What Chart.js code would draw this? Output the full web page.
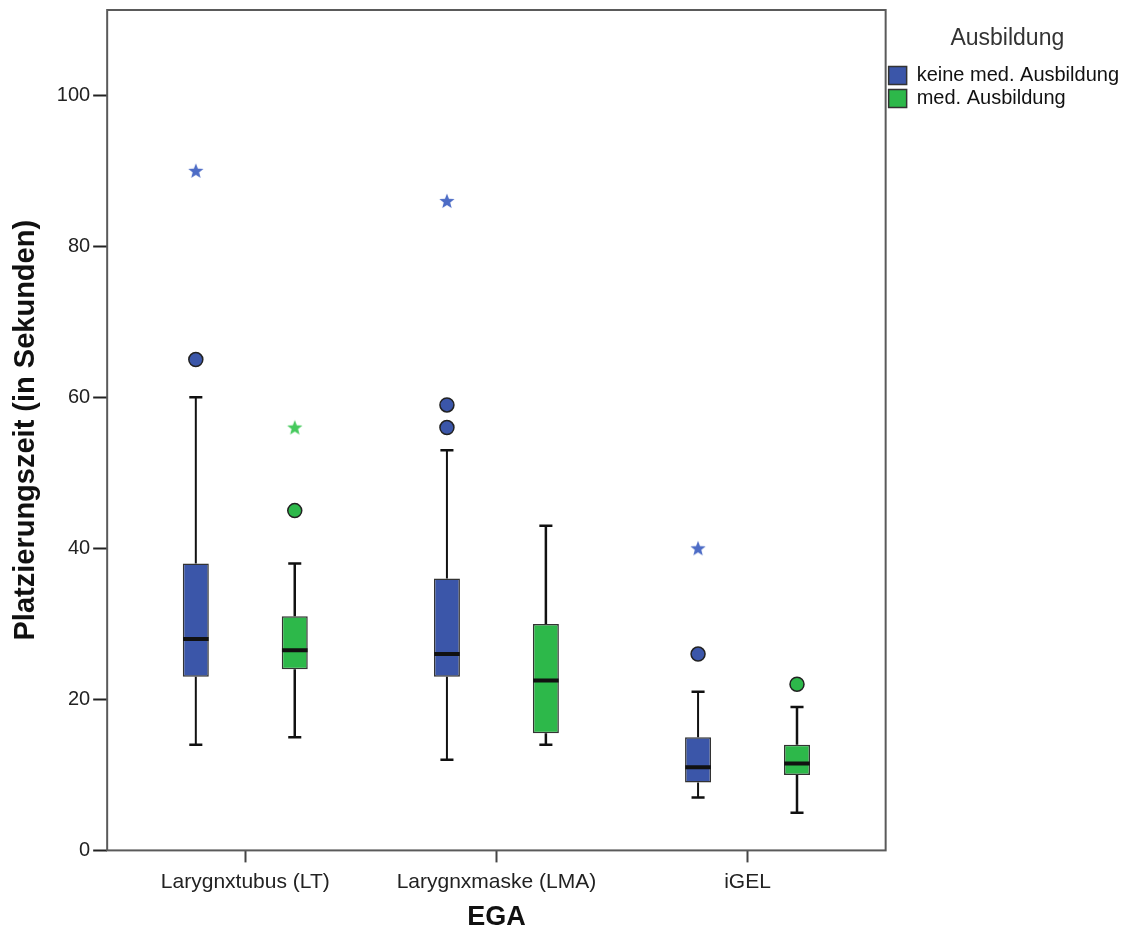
<!DOCTYPE html>
<html><head><meta charset="utf-8">
<script src="https://cdn.jsdelivr.net/npm/chart.js@4.4.1/dist/chart.umd.min.js"></script>
<style>html,body{margin:0;padding:0;background:#fff;} #wrap{width:1127px;height:934px;position:relative}</style>
</head><body><div id="wrap"><canvas id="c" width="1127" height="934"></canvas></div>
<script>
// ---- data ----
const categories = ['Larygnxtubus (LT)', 'Larygnxmaske (LMA)', 'iGEL'];
const seriesNames = ['keine med. Ausbildung', 'med. Ausbildung'];
const yTicks = [0, 20, 40, 60, 80, 100];

const keineMin      = [14, 12, 7];
const keineQ1       = [23, 23, 9];
const keineMedian   = [28, 26, 11];
const keineQ3       = [38, 36, 15];
const keineMax      = [60, 53, 21];
const keineOutliers = [[65], [59, 56], [26]];
const keineExtremes = [[90], [86], [40]];

const medMin        = [15, 14, 5];
const medQ1         = [24, 15.5, 10];
const medMedian     = [26.5, 22.5, 11.5];
const medQ3         = [31, 30, 14];
const medMax        = [38, 43, 19];
const medOutliers   = [[45], [], [22]];
const medExtremes   = [[56], [], []];

// ---- style ----
const FONT = "'Liberation Sans', Arial, sans-serif";
const BLUE = '#3b56a9', GREEN = '#2db84a';
const BLUE_STAR = '#4d6cc6', GREEN_STAR = '#45c95c';
const OFFSET = 0.197, CAP_HALF = 0.026, MED_HALF = 0.051;

function starCanvas(color) {
  const s = 18, c = document.createElement('canvas');
  c.width = s; c.height = s;
  const g = c.getContext('2d');
  const cx = s / 2, cy = s / 2 + 0.5, R = 8, r = 3.4;
  g.beginPath();
  for (let i = 0; i < 10; i++) {
    const rad = i % 2 === 0 ? R : r;
    const a = -Math.PI / 2 + i * Math.PI / 5;
    const px = cx + rad * Math.cos(a), py = cy + rad * Math.sin(a);
    i === 0 ? g.moveTo(px, py) : g.lineTo(px, py);
  }
  g.closePath();
  g.fillStyle = color; g.fill();
  return c;
}

function build(min, q1, med, q3, max, outl, extr, off) {
  const boxes = [], whisk = [], caps = [], meds = [], circ = [], stars = [];
  categories.forEach((_, i) => {
    const x = i + off;
    boxes.push({x: x, y: [q1[i], q3[i]]});
    whisk.push({x: x, y: min[i]}, {x: x, y: q1[i]}, {x: x, y: null},
               {x: x, y: q3[i]}, {x: x, y: max[i]}, {x: x, y: null});
    caps.push({x: x - CAP_HALF, y: min[i]}, {x: x + CAP_HALF, y: min[i]}, {x: x, y: null},
              {x: x - CAP_HALF, y: max[i]}, {x: x + CAP_HALF, y: max[i]}, {x: x, y: null});
    meds.push({x: x - MED_HALF, y: med[i]}, {x: x + MED_HALF, y: med[i]}, {x: x, y: null});
    outl[i].forEach(v => circ.push({x: x, y: v}));
    extr[i].forEach(v => stars.push({x: x, y: v}));
  });
  return {boxes, whisk, caps, meds, circ, stars};
}

const A = build(keineMin, keineQ1, keineMedian, keineQ3, keineMax, keineOutliers, keineExtremes, -OFFSET);
const B = build(medMin, medQ1, medMedian, medQ3, medMax, medOutliers, medExtremes, OFFSET);

const lineDs = (data, w) => ({type: 'line', data, borderColor: '#111', borderWidth: w, pointRadius: 0,
  spanGaps: false, fill: false, borderCapStyle: 'butt', tension: 0, order: 0});

const datasets = [
  {type: 'bar', label: seriesNames[0], data: A.boxes, backgroundColor: BLUE, borderColor: '#333',
   borderWidth: 1.5, borderSkipped: false, grouped: false, maxBarThickness: 26, order: 2},
  {type: 'bar', label: seriesNames[1], data: B.boxes, backgroundColor: GREEN, borderColor: '#333',
   borderWidth: 1.5, borderSkipped: false, grouped: false, maxBarThickness: 26, order: 2},
  lineDs(A.whisk, 2), lineDs(B.whisk, 2.5), lineDs(A.caps, 2.5), lineDs(B.caps, 2.5),
  lineDs(A.meds, 4), lineDs(B.meds, 4),
  {type: 'line', data: A.circ, showLine: false, pointStyle: 'circle', pointRadius: 7,
   pointBackgroundColor: BLUE, pointBorderColor: '#222', pointBorderWidth: 1.5, order: 0},
  {type: 'line', data: B.circ, showLine: false, pointStyle: 'circle', pointRadius: 7,
   pointBackgroundColor: GREEN, pointBorderColor: '#222', pointBorderWidth: 1.5, order: 0},
  {type: 'line', data: A.stars, showLine: false, pointStyle: starCanvas(BLUE_STAR), pointRadius: 8, order: 0},
  {type: 'line', data: B.stars, showLine: false, pointStyle: starCanvas(GREEN_STAR), pointRadius: 8, order: 0}
];

const framePlugin = {
  id: 'frame',
  afterDraw(chart) {
    const {ctx, chartArea: a} = chart;
    ctx.save();
    ctx.strokeStyle = '#5a5a5a'; ctx.lineWidth = 2;
    ctx.strokeRect(a.left, a.top, a.right - a.left, a.bottom - a.top);
    ctx.restore();
  }
};

new Chart(document.getElementById('c'), {
  type: 'bar',
  data: {datasets},
  plugins: [framePlugin],
  options: {
    responsive: false, animation: false, devicePixelRatio: 1,
    layout: {padding: {left: 0, top: 10, right: -2, bottom: 0}},
    scales: {
      x: {
        type: 'linear', min: -0.55, max: 2.55, offset: false,
        afterBuildTicks: s => { s.ticks = categories.map((_, i) => ({value: i})); },
        grid: {display: true, drawOnChartArea: false, drawTicks: true, tickLength: 12, tickWidth: 2, tickColor: '#444', offset: false},
        border: {display: false},
        ticks: {callback: v => categories[v], autoSkip: false, maxRotation: 0, padding: 7,
                color: '#222', font: {family: FONT, size: 21}},
        title: {display: true, text: 'EGA', color: '#111', font: {family: FONT, size: 27, weight: 'bold'},
                padding: {top: 0, bottom: 0}}
      },
      y: {
        type: 'linear', min: 0, max: 111.3,
        afterBuildTicks: s => { s.ticks = yTicks.map(v => ({value: v})); },
        grid: {display: true, drawOnChartArea: false, drawTicks: true, tickLength: 14, tickWidth: 2, tickColor: '#222'},
        border: {display: false},
        ticks: {padding: 3, color: '#222', font: {family: FONT, size: 20, lineHeight: 0.6}},
        title: {display: true, text: 'Platzierungszeit (in Sekunden)', color: '#111',
                font: {family: FONT, size: 29, weight: 'bold'}, padding: {top: 9, bottom: 10}}
      }
    },
    plugins: {
      tooltip: {enabled: false},
      legend: {
        position: 'right', align: 'start',
        title: {display: true, text: 'Ausbildung', color: '#333', font: {family: FONT, size: 23},
                padding: {top: 17, bottom: 8}},
        labels: {boxWidth: 18, boxHeight: 18, padding: 3, color: '#111',
                 font: {family: FONT, size: 20, lineHeight: 1},
                 filter: item => item.datasetIndex < 2}
      }
    }
  }
});
</script></body></html>
